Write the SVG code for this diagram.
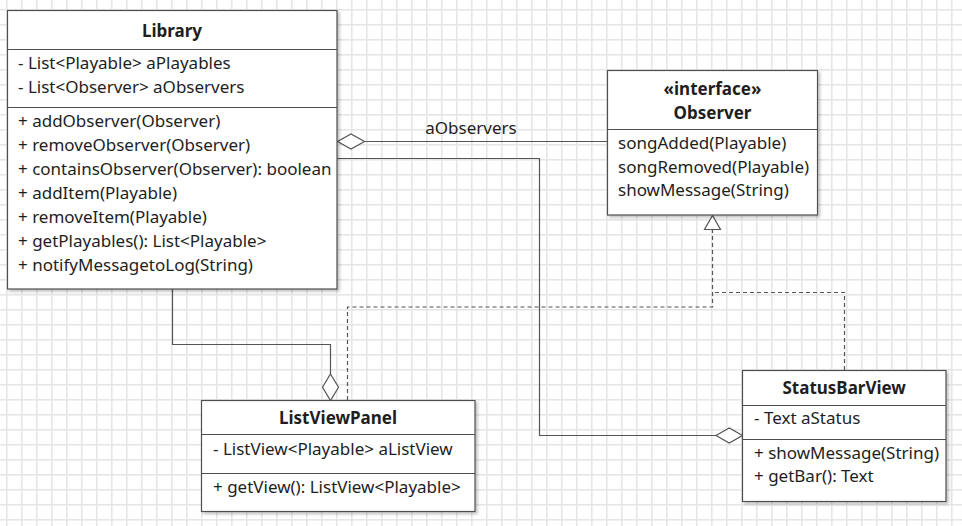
<svg xmlns="http://www.w3.org/2000/svg" width="962" height="526" viewBox="0 0 962 526">
<style>
text{font-family:"Noto Sans","Open Sans","Liberation Sans",sans-serif;font-size:17px;fill:#1e1e1e}
.t{font-weight:bold;text-anchor:middle}
.box{fill:#fff;stroke:#4f4f4f;stroke-width:1.2;filter:url(#sh)}
.div{stroke:#4f4f4f;stroke-width:1.2;fill:none}
.ln{fill:none;stroke:#555;stroke-width:1.2}
.dash{stroke-dasharray:4,3}
.dia{fill:#fff;stroke:#555;stroke-width:1.2}
</style>
<defs>
<pattern id="grid" width="15" height="15" patternUnits="userSpaceOnUse" x="6" y="9">
<rect x="0" y="0" width="15" height="1.6" fill="#e6e6e6"/>
<rect x="0" y="0" width="1.6" height="15" fill="#e6e6e6"/>
</pattern>
<filter id="sh" x="-5%" y="-5%" width="115%" height="115%">
<feDropShadow dx="2" dy="2" stdDeviation="1.5" flood-color="#000" flood-opacity="0.25"/>
</filter>
</defs>
<rect width="962" height="526" fill="#fff"/>
<rect width="962" height="526" fill="url(#grid)"/>

<g id="connectors">
<path class="ln" d="M364.5,141.5 H607.5"/>
<polygon class="dia" points="337.5,141.5 351,134 364.5,141.5 351,149"/>
<text x="471" y="134" text-anchor="middle">aObservers</text>
<path class="ln" d="M337.5,158.5 H539.5 V435.5 H716"/>
<polygon class="dia" points="716,435.5 729.3,428 742.5,435.5 729.3,443"/>
<path class="ln" d="M172.5,289 V344.5 H330.5 V374"/>
<polygon class="dia" points="330.5,374 338.5,387.3 330.5,400.5 322.5,387.3"/>
<path class="ln dash" d="M347.5,400 V307 H712.5 V229.5"/>
<path class="ln dash" d="M844.5,370 V292.5 H712.5"/>
<polygon class="dia" points="712.5,215.5 704.5,229.5 720.5,229.5"/>
</g>

<g id="library">
<rect class="box" x="7.5" y="10.5" width="329.5" height="278.5"/>
<path class="div" d="M7.5,49.5 H337 M7.5,107.5 H337"/>
<text class="t" x="172" y="37">Library</text>
<text x="18" y="69">- List&lt;Playable&gt; aPlayables</text>
<text x="18" y="93">- List&lt;Observer&gt; aObservers</text>
<text x="18" y="127">+ addObserver(Observer)</text>
<text x="18" y="151">+ removeObserver(Observer)</text>
<text x="18" y="175">+ containsObserver(Observer): boolean</text>
<text x="18" y="199">+ addItem(Playable)</text>
<text x="18" y="223">+ removeItem(Playable)</text>
<text x="18" y="247">+ getPlayables(): List&lt;Playable&gt;</text>
<text x="18" y="271">+ notifyMessagetoLog(String)</text>
</g>

<g id="observer">
<rect class="box" x="607.5" y="70.5" width="210" height="144.5"/>
<path class="div" d="M607.5,129.5 H817.5"/>
<text class="t" x="712.5" y="94.5">«interface»</text>
<text class="t" x="712.5" y="118.5">Observer</text>
<text x="618" y="149">songAdded(Playable)</text>
<text x="618" y="172.5">songRemoved(Playable)</text>
<text x="618" y="196">showMessage(String)</text>
</g>

<g id="listViewPanel">
<rect class="box" x="201.5" y="400.5" width="273.5" height="111"/>
<path class="div" d="M201.5,434.5 H475 M201.5,473.5 H475"/>
<text class="t" x="338" y="424.3">ListViewPanel</text>
<text x="213" y="455">- ListView&lt;Playable&gt; aListView</text>
<text x="213" y="493.3">+ getView(): ListView&lt;Playable&gt;</text>
</g>

<g id="statusBarView">
<rect class="box" x="742.5" y="370.5" width="203.5" height="131"/>
<path class="div" d="M742.5,405.5 H946 M742.5,439.5 H946"/>
<text class="t" x="844.2" y="394.3">StatusBarView</text>
<text x="754" y="424">- Text aStatus</text>
<text x="754" y="459">+ showMessage(String)</text>
<text x="754" y="482.3">+ getBar(): Text</text>
</g>
</svg>
